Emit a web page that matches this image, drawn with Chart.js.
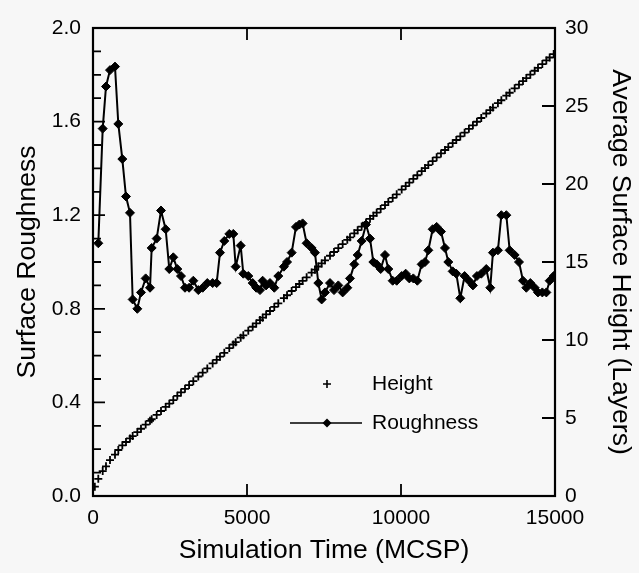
<!DOCTYPE html>
<html>
<head>
<meta charset="utf-8">
<script src="https://cdn.jsdelivr.net/npm/chart.js"></script>
<style>
  html, body { margin: 0; padding: 0; background: #f7f7f7; }
  canvas { display: block; }
</style>
</head>
<body>
<canvas id="roughChart" width="639" height="573"></canvas>
<script>
// Roughness (left axis)
const roughTime = [172, 315, 422, 552, 714, 822, 952, 1071, 1201, 1288,
  1439, 1558, 1710, 1851, 1905, 2067, 2208, 2359, 2477, 2607,
  2737, 2857, 2987, 3120, 3257, 3419, 3561, 3711, 3885, 4015,
  4123, 4263, 4425, 4555, 4633, 4795, 4880, 5042, 5185, 5300,
  5422, 5508, 5620, 5746, 5886, 6016, 6198, 6300, 6450, 6590,
  6700, 6806, 6936, 7098, 7207, 7315, 7424, 7532, 7695, 7825,
  7965, 8106, 8257, 8344, 8484, 8593, 8723, 8864, 8994, 9102,
  9210, 9340, 9480, 9588, 9730, 9860, 10022, 10152, 10270, 10400,
  10530, 10671, 10780, 10887, 11028, 11158, 11298, 11428, 11536, 11678,
  11795, 11925, 12065, 12205, 12335, 12465, 12606, 12768, 12898, 12985,
  13147, 13258, 13420, 13528, 13690, 13831, 13961, 14069, 14199, 14340,
  14448, 14589, 14719, 14827, 14957];
const roughness = [1.08, 1.57, 1.75, 1.82, 1.835, 1.59, 1.44, 1.28, 1.21, 0.84,
  0.80, 0.87, 0.93, 0.89, 1.06, 1.10, 1.22, 1.14, 0.97, 1.02,
  0.97, 0.94, 0.89, 0.89, 0.92, 0.88, 0.89, 0.91, 0.91, 0.91,
  1.04, 1.09, 1.12, 1.12, 0.98, 1.07, 0.95, 0.94, 0.91, 0.89,
  0.88, 0.92, 0.90, 0.91, 0.89, 0.94, 0.98, 1.00, 1.04, 1.15,
  1.16, 1.165, 1.08, 1.06, 1.04, 0.91, 0.84, 0.87, 0.91, 0.88,
  0.90, 0.87, 0.89, 0.93, 0.99, 1.03, 1.09, 1.16, 1.10, 1.00,
  0.99, 0.97, 1.03, 0.97, 0.92, 0.92, 0.94, 0.95, 0.93, 0.93,
  0.92, 0.99, 1.00, 1.05, 1.14, 1.15, 1.13, 1.06, 1.00, 0.96,
  0.95, 0.845, 0.94, 0.92, 0.90, 0.94, 0.95, 0.97, 0.89, 1.04,
  1.05, 1.20, 1.20, 1.05, 1.03, 1.00, 0.92, 0.89, 0.91, 0.89,
  0.87, 0.87, 0.87, 0.92, 0.94];

// Average surface height (right axis)
const heightTime = [60, 172, 315, 422, 552, 714, 822, 952, 1071, 1201, 1288,
  1439, 1558, 1710, 1851, 1905, 2067, 2208, 2359, 2477, 2607,
  2737, 2857, 2987, 3120, 3257, 3419, 3561, 3711, 3885, 4015,
  4123, 4263, 4425, 4555, 4633, 4795, 4880, 5042, 5185, 5300,
  5422, 5508, 5620, 5746, 5886, 6016, 6198, 6300, 6450, 6590,
  6700, 6806, 6936, 7098, 7207, 7315, 7424, 7532, 7695, 7825,
  7965, 8106, 8257, 8344, 8484, 8593, 8723, 8864, 8994, 9102,
  9210, 9340, 9480, 9588, 9730, 9860, 10022, 10152, 10270, 10400,
  10530, 10671, 10780, 10887, 11028, 11158, 11298, 11428, 11536, 11678,
  11795, 11925, 12065, 12205, 12335, 12465, 12606, 12768, 12898, 12985,
  13147, 13258, 13420, 13528, 13690, 13831, 13961, 14069, 14199, 14340,
  14448, 14589, 14719, 14827, 14957];
const height = [0.6, 1.1, 1.6, 1.9, 2.3, 2.65, 2.95, 3.25, 3.46, 3.69, 3.84,
  4.10, 4.31, 4.58, 4.82, 4.92, 5.20, 5.45, 5.71, 5.92, 6.15,
  6.42, 6.64, 6.87, 7.11, 7.36, 7.66, 7.91, 8.18, 8.50, 8.73,
  8.93, 9.18, 9.48, 9.71, 9.86, 10.15, 10.30, 10.60, 10.85, 11.06,
  11.28, 11.43, 11.64, 11.86, 12.12, 12.35, 12.68, 12.87, 13.14, 13.39,
  13.59, 13.79, 14.02, 14.32, 14.51, 14.71, 14.91, 15.11, 15.40, 15.64,
  15.89, 16.15, 16.42, 16.58, 16.84, 17.04, 17.27, 17.53, 17.77, 17.96,
  18.16, 18.40, 18.65, 18.85, 19.11, 19.34, 19.64, 19.87, 20.09, 20.33,
  20.56, 20.82, 21.02, 21.21, 21.47, 21.71, 21.96, 22.18, 22.37, 22.62,
  22.82, 23.05, 23.29, 23.54, 23.76, 23.99, 24.23, 24.52, 24.74, 24.90,
  25.18, 25.37, 25.66, 25.85, 26.13, 26.37, 26.60, 26.79, 27.01, 27.26,
  27.45, 27.69, 27.92, 28.11, 28.33];

// Axis ranges / ticks
const xTicks = [0, 5000, 10000, 15000];
const roughTicks = [0.0, 0.4, 0.8, 1.2, 1.6, 2.0];
const heightTicks = [0, 5, 10, 15, 20, 25, 30];
const legendLabels = ['Height', 'Roughness'];

const FONT = "'Liberation Sans', Arial, Helvetica, sans-serif";

// ✅ draws the box, the inward tick marks and the legend
const frameAndLegend = {
    id: 'frameAndLegend',
    afterDatasetsDraw(chart) {
        const { ctx, chartArea: a, scales } = chart;
        ctx.save();
        ctx.strokeStyle = '#000';
        ctx.lineWidth = 2.2;
        ctx.strokeRect(a.left, a.top, a.right - a.left, a.bottom - a.top);

        ctx.lineWidth = 1.8;
        ctx.beginPath();
        // left axis: major every 0.4, minor every 0.1
        for (let i = 0; i <= 20; i++) {
            const y = scales.y.getPixelForValue(i / 10);
            const len = (i % 4 === 0) ? 12 : 8;
            ctx.moveTo(a.left, y);
            ctx.lineTo(a.left + len, y);
        }
        // right axis
        heightTicks.forEach(v => {
            const y = scales.y1.getPixelForValue(v);
            ctx.moveTo(a.right, y);
            ctx.lineTo(a.right - 13, y);
        });
        // top & bottom
        xTicks.slice(1, -1).forEach(v => {
            const x = scales.x.getPixelForValue(v);
            ctx.moveTo(x, a.bottom);
            ctx.lineTo(x, a.bottom - 12);
            ctx.moveTo(x, a.top);
            ctx.lineTo(x, a.top + 12);
        });
        ctx.stroke();

        // legend
        ctx.font = '21px ' + FONT;
        ctx.fillStyle = '#000';
        ctx.textBaseline = 'middle';
        ctx.textAlign = 'left';
        const lx = 327, tx = 372;
        const y1 = 384, y2 = 423;
        ctx.lineWidth = 1.6;
        ctx.beginPath();
        ctx.moveTo(lx - 4, y1); ctx.lineTo(lx + 4, y1);
        ctx.moveTo(lx, y1 - 4); ctx.lineTo(lx, y1 + 4);
        ctx.moveTo(290, y2); ctx.lineTo(362, y2);
        ctx.stroke();
        ctx.beginPath();
        ctx.moveTo(lx - 4.5, y2); ctx.lineTo(lx, y2 - 4.5);
        ctx.lineTo(lx + 4.5, y2); ctx.lineTo(lx, y2 + 4.5);
        ctx.closePath();
        ctx.fill();
        ctx.fillText(legendLabels[0], tx, y1);
        ctx.fillText(legendLabels[1], tx, y2);
        ctx.restore();
    }
};

const ctx = document.getElementById('roughChart').getContext('2d');
new Chart(ctx, {
    type: 'line',
    data: {
        datasets: [{
            label: legendLabels[0],
            data: heightTime.map((t, i) => ({ x: t, y: height[i] })),
            yAxisID: 'y1',
            showLine: false,
            pointStyle: 'cross',
            pointRadius: 4,
            pointBorderWidth: 1.8,
            borderColor: '#000',
            backgroundColor: '#000'
        }, {
            label: legendLabels[1],
            data: roughTime.map((t, i) => ({ x: t, y: roughness[i] })),
            yAxisID: 'y',
            borderColor: '#000',
            backgroundColor: '#000',
            borderWidth: 2,
            tension: 0,
            pointStyle: 'rectRot',
            pointRadius: 4.5,
            pointBorderWidth: 1
        }]
    },
    options: {
        responsive: false,
        animation: false,
        devicePixelRatio: 1,
        layout: { padding: { top: 28, left: 0, right: 0, bottom: 0 } },
        plugins: {
            legend: { display: false },
            tooltip: { enabled: false }
        },
        scales: {
            x: {
                type: 'linear',
                min: 0, max: 15000,
                afterBuildTicks: s => { s.ticks = xTicks.map(v => ({ value: v })); },
                afterFit: s => { s.height = 77; s.paddingLeft = 0; s.paddingRight = 0; },
                grid: { display: false, drawTicks: false },
                border: { display: false },
                ticks: { color: '#000', padding: 10, maxRotation: 0, font: { family: FONT, size: 21 },
                         callback: v => String(v) },
                title: { display: true, text: 'Simulation Time (MCSP)', color: '#000',
                         padding: { top: 0, bottom: 6 }, font: { family: FONT, size: 26.5 } }
            },
            y: {
                position: 'left',
                min: 0, max: 2,
                afterBuildTicks: s => { s.ticks = roughTicks.map(v => ({ value: v })); },
                afterFit: s => { s.width = 93; s.paddingTop = 0; s.paddingBottom = 0; },
                grid: { display: false, drawTicks: false },
                border: { display: false },
                ticks: { color: '#000', padding: 12, font: { family: FONT, size: 21 },
                         callback: v => v.toFixed(1) },
                title: { display: true, text: 'Surface Roughness', color: '#000',
                         padding: { top: 12, bottom: 0 }, font: { family: FONT, size: 26.5 } }
            },
            y1: {
                position: 'right',
                min: 0, max: 30,
                afterBuildTicks: s => { s.ticks = heightTicks.map(v => ({ value: v })); },
                afterFit: s => { s.width = 84; s.paddingTop = 0; s.paddingBottom = 0; },
                grid: { display: false, drawTicks: false },
                border: { display: false },
                ticks: { color: '#000', padding: 10, font: { family: FONT, size: 21 } },
                title: { display: true, text: 'Average Surface Height (Layers)', color: '#000',
                         padding: { top: 3, bottom: 0 }, font: { family: FONT, size: 26.5 } }
            }
        }
    },
    plugins: [frameAndLegend]
});
</script>
</body>
</html>
